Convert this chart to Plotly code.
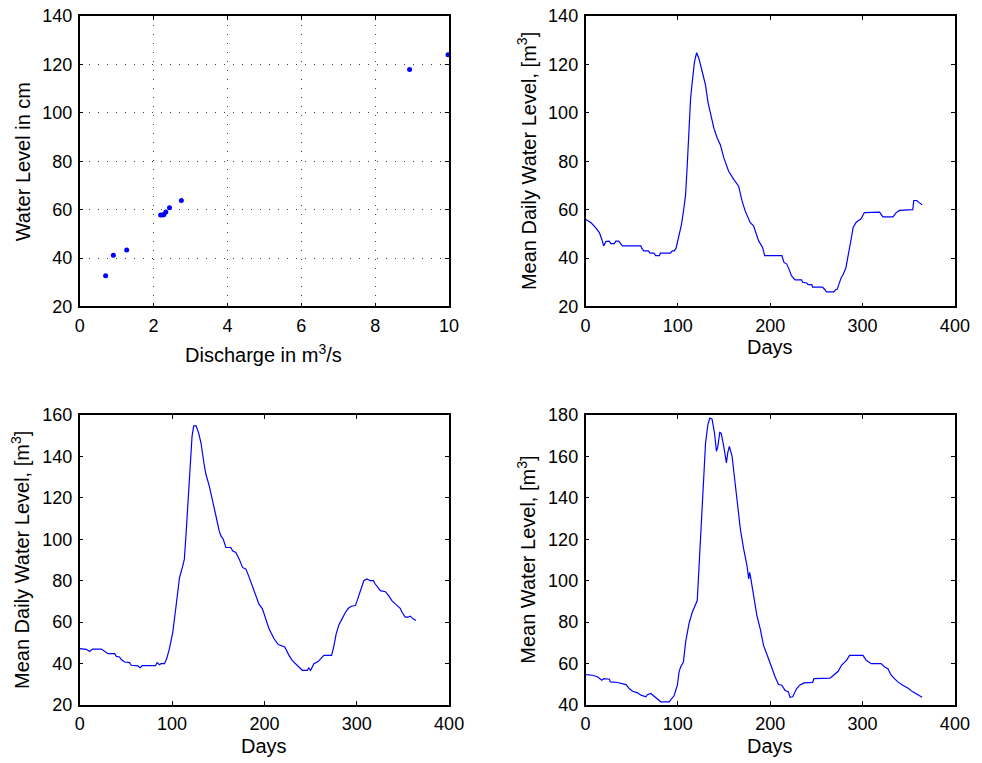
import plotly.graph_objects as go

# ---- Data ----
discharge = [0.70, 0.91, 1.27, 2.19, 2.25, 2.28, 2.33, 2.43, 2.75, 8.93, 9.97]
water_level_cm = [32.7, 41.2, 43.3, 57.8, 57.8, 58.0, 59.0, 60.8, 63.8, 117.9, 124.0]

days_a = [0, 6, 11, 15, 17.6, 19.7, 22, 25.6, 27.4, 31, 32.8, 36, 38, 40, 60, 61, 63, 68, 70, 74, 76, 80, 81,
          92, 94, 96, 98, 101, 104, 106.6, 108.4, 110.2, 112, 113.8, 115.6, 118, 120.3, 122.8, 126.4, 130,
          132.5, 135.4, 139, 142.6, 146, 149.8, 155, 160.5, 165.8, 169.5, 173, 178.4, 182, 187.5, 191.8,
          194, 212.6, 215, 218, 221, 223, 227, 234, 235, 239.5, 241, 245, 246, 256.7, 259, 261, 269, 271,
          272.5, 274.7, 277, 279, 282, 283.7, 286, 288, 289.8, 293, 296, 298, 300, 302, 318.5, 322, 333,
          336.5, 340, 354.4, 355.5, 358.7, 361, 364.5]
level_a = [56, 54.6, 52.6, 50.5, 47.8, 45, 46.8, 47, 46, 46, 47, 47, 46, 45, 45, 44, 43, 43, 42, 42, 41, 41, 42,
           42, 43, 43, 44, 48.5, 54, 60.8, 66.3, 78.6, 92.3, 106, 112.9, 121, 124.9, 122.5, 117, 111.5,
           104.7, 99.2, 93.7, 89.6, 86.8, 81.4, 75.9, 72.5, 69.7, 63.6, 59.4, 54.6, 53.3, 47.1, 44.4,
           41, 41, 38.2, 37.5, 34.8, 32.7, 31, 31, 30, 29.7, 29, 29, 28, 28, 27, 26, 26, 27,
           27, 30, 32, 33.2, 36, 39.6, 43.7, 48.5, 52.6, 54.7, 55.6, 56, 57.4, 58.8, 59, 57, 57,
           58.8, 59.7, 60, 63.8, 63.8, 63, 62]

days_b = [0, 1.8, 7, 10.8, 13.7, 23.4, 27, 30.6, 37.8, 39.6, 43, 45, 48.6, 54, 55.8, 63, 65.5, 67.6, 82, 83.8,
          86.3, 88, 91.7, 94, 97, 100.7, 104.3, 108, 111.5, 113.3, 115, 118, 119.4, 121.6, 123.4, 126,
          128.8, 131.3, 135, 136.7, 140.3, 143.9, 147.5, 151, 152.9, 155.4, 158.3, 163.7, 165.5, 169,
          172.7, 176.3, 180, 183.5, 187, 190.6, 194, 197.8, 201.4, 205, 210.4, 215, 222, 223.7, 226.6,
          230, 235.6, 239, 241, 246.4, 248, 250, 253.6, 258, 262, 264.4, 272.7, 275, 277.7, 280.6, 284,
          287.8, 291, 294, 298.6, 300.4, 304, 307.6, 311, 314.7, 318, 320, 325.5, 331, 334.5, 338,
          341.7, 347, 349, 352.5, 355.4, 358, 361, 364]
level_b = [47.2, 47.2, 46.9, 45.9, 47, 47, 46, 44.8, 44.8, 43.5, 43.2, 42, 40.8, 40.5, 39.2, 38.9, 38, 39, 39, 40.5,
           39.5, 40, 40, 42.2, 47, 55, 67.8, 81.4, 87, 90.4, 101.6, 125.6, 138.4, 149.6, 154.7, 154.7,
           151.2, 146.4, 135.2, 131.2, 125.6, 117.6, 111.2, 104, 101.6, 100, 96, 96, 94.4, 93.6,
           90.4, 86.4, 85.6, 81.6, 77.6, 72.8, 68.8, 66.4, 61.6, 56.8, 52, 49.2, 48, 46.4, 44,
           41.6, 39.2, 37.6, 36.8, 36.8, 37.9, 36.8, 40, 41, 43.2, 44, 44, 48, 54.4, 58.7, 61.6,
           64.8, 66.7, 67.7, 68, 70.4, 76, 80, 80.8, 80, 80, 78.4, 75.2, 74.7, 72.8, 70.4,
           68.8, 66.7, 64.8, 62.4, 62.4, 62.9, 61.6, 60.8]

days_c = [0, 0.7, 7.9, 13.3, 17.6, 19.7, 25.9, 27, 34.8, 43.8, 47.4, 51, 56.4, 60, 65.4, 67, 70.7, 73.6, 78,
          81.5, 90.5, 95.9, 99.5, 101.3, 103, 106, 108.4, 112, 115.6, 119, 121, 122.8, 125.3, 127.5,
          130, 132.5, 134.6, 137, 139.7, 141.8, 143.3, 145.4, 146.9, 149.7, 152.6, 154, 155.8, 158.7,
          161.2, 164, 167.7, 171.3, 174.9, 176.7, 177.7, 178.5, 182, 185.6, 189.2, 192.8, 198.2,
          201.8, 205.4, 209, 212.5, 216, 219.7, 221.5, 224.4, 228.7, 232, 236.6, 246, 247.4, 264.6,
          266.4, 270, 273.6, 277.2, 282.6, 286, 300.5, 304, 309.5, 320, 324, 327.5, 331, 334.6, 338.2,
          343.6, 349, 354.4, 360, 364.5]
level_c = [55, 54.7, 54.4, 53.6, 52, 52.8, 52.5, 51.2, 50.9, 49.9, 48, 46.7, 45.9, 44.8, 44, 45, 45.6, 44.5, 43.2,
           41.6, 41.6, 44.5, 49.6, 56, 58.4, 60.8, 70.4, 79.2, 84.8, 88, 90.4, 105.6, 126.4, 150.4,
           166.4, 175.2, 178.4, 178, 171.2, 162.4, 164.8, 171.5, 171.2, 164.8, 156.8, 161.6, 164.8, 160,
           150.4, 137.6, 124.8, 115.2, 107.2, 100.8, 104, 102.4, 92, 83.2, 76.8, 68.8, 62.4,
           57.6, 53.6, 49.9, 49.6, 47.2, 46.4, 43.8, 44, 48, 49.6, 50.7, 51, 52.8, 53,
           53.6, 55.2, 56.3, 59.2, 61.6, 64, 64, 61.6, 60, 60, 58.4, 57.6, 54.4, 52.8, 51.2,
           49.6, 48.3, 46.4, 44.8, 43.8]

x_ticks_q = [0, 2, 4, 6, 8, 10]
y_ticks_1 = [20, 40, 60, 80, 100, 120, 140]
x_ticks_days = [0, 100, 200, 300, 400]
y_ticks_3 = [20, 40, 60, 80, 100, 120, 140, 160]
y_ticks_4 = [40, 60, 80, 100, 120, 140, 160, 180]

xtitle_1 = "Discharge in m<sup>3</sup>/s"
ytitle_1 = "Water Level in cm"
xtitle_days = "Days"
ytitle_daily = "Mean Daily Water Level, [m<sup>3</sup>]"
ytitle_4 = "Mean Water Level, [m<sup>3</sup>]"

BLUE = "#0000ff"
FONT = "Liberation Sans, Arial, Helvetica, sans-serif"
TICK_SIZE = 18
TITLE_SIZE = 20

W, H = 982, 763
# the photographed page is slightly fitted back to W x H;
# these map wanted picture pixels to figure pixels
SX = (W + 16) / W
SY = (H + 16) / H


def fx(px):
    return px * SX - 5


def fy(py):
    return py * SY - 8


L = [fx(80) / W, fx(451) / W]
R = [fx(588) / W, fx(959) / W]
T = [1 - fy(306) / H, 1 - fy(14) / H]
B = [1 - fy(707) / H, 1 - fy(415) / H]

fig = go.Figure()
fig.add_trace(go.Scatter(x=discharge, y=water_level_cm, mode="markers",
                         marker=dict(color=BLUE, size=5), xaxis="x", yaxis="y"))
fig.add_trace(go.Scatter(x=days_a, y=level_a, mode="lines",
                         line=dict(color=BLUE, width=1.2), xaxis="x2", yaxis="y2"))
fig.add_trace(go.Scatter(x=days_b, y=level_b, mode="lines",
                         line=dict(color=BLUE, width=1.2), xaxis="x3", yaxis="y3"))
fig.add_trace(go.Scatter(x=days_c, y=level_c, mode="lines",
                         line=dict(color=BLUE, width=1.2), xaxis="x4", yaxis="y4"))


def ax(domain, rng, ticks, anchor, grid=False):
    return dict(domain=domain, range=rng, tickvals=ticks, ticks="inside", ticklen=4,
                tickcolor="black", tickwidth=1, showline=True, linecolor="black", linewidth=1.5,
                mirror="ticks", zeroline=False, showgrid=grid, gridcolor="#444444",
                griddash="1px,8px", gridwidth=1, anchor=anchor, ticklabelstandoff=2,
                tickfont=dict(size=TICK_SIZE, color="black", family=FONT))


def ann(text, x, y, angle=0):
    return dict(text=text, x=fx(x) / W, y=1 - fy(y) / H, xref="paper", yref="paper",
                xanchor="center", yanchor="middle", showarrow=False, textangle=angle,
                font=dict(size=TITLE_SIZE, color="black", family=FONT))


fig.update_layout(
    width=W, height=H, margin=dict(l=0, r=0, t=0, b=0),
    paper_bgcolor="white", plot_bgcolor="white", showlegend=False,
    xaxis=ax(L, [0, 10], x_ticks_q, "y", grid=True),
    yaxis=ax(T, [20, 140], y_ticks_1, "x", grid=True),
    xaxis2=ax(R, [0, 400], x_ticks_days, "y2"),
    yaxis2=ax(T, [20, 140], y_ticks_1, "x2"),
    xaxis3=ax(L, [0, 400], x_ticks_days, "y3"),
    yaxis3=ax(B, [20, 160], y_ticks_3, "x3"),
    xaxis4=ax(R, [0, 400], x_ticks_days, "y4"),
    yaxis4=ax(B, [40, 180], y_ticks_4, "x4"),
    annotations=[
        ann(xtitle_1, 265, 353),
        ann(ytitle_1, 23, 161, -90),
        ann(xtitle_days, 773, 347),
        ann(ytitle_daily, 529, 160, -90),
        ann(xtitle_days, 265, 748),
        ann(ytitle_daily, 21, 561, -90),
        ann(xtitle_days, 773, 748),
        ann(ytitle_4, 529, 561, -90),
    ],
)

fig.write_html("out.html")
